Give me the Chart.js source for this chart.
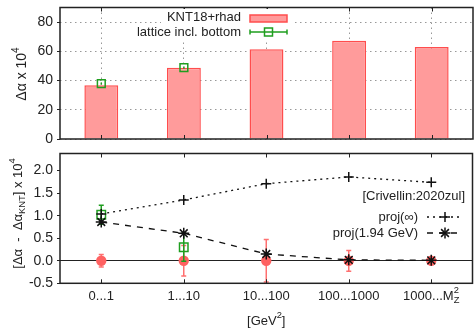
<!DOCTYPE html>
<html>
<head>
<meta charset="utf-8">
<script src="https://cdn.jsdelivr.net/npm/chart.js@4/dist/chart.umd.min.js"></script>
<style>
html, body { margin: 0; padding: 0; background: #fff; overflow: hidden; width: 474px; height: 331px; }
#wrap { position: relative; width: 480px; height: 331px; }
canvas { position: absolute; left: 0; }
#top { top: 0; }
#bot { top: 146px; }
</style>
</head>
<body>
<div id="wrap">
  <canvas id="top" width="480" height="146"></canvas>
  <canvas id="bot" width="480" height="185"></canvas>
</div>
<script>
// --- DATA ---
const categories = ['0...1', '1...10', '10...100', '100...1000', '1000...M_{Z}^{2}'];
const xTitle = '[GeV^{2}]';

// top panel: delta alpha x 10^4
const knt = [36.8, 48.7, 61.4, 67.3, 63.0];
const lattice = [37.9, 48.9, null, null, null];
const latticeErr = [0.8, 0.8, null, null, null];
const topTicks = [0, 20, 40, 60, 80];

// bottom panel: difference to KNT
const kntDiff = [0, 0, 0, 0, 0];
const kntDiffErr = [0.14, 0.34, 0.47, 0.23, 0];
const latticeDiff = [1.02, 0.30, null, null, null];
const latticeDiffErr = [0.21, 0.31, null, null, null];
const projInf = [1.04, 1.35, 1.71, 1.86, 1.74];
const proj194 = [0.86, 0.61, 0.15, 0.02, 0.01];

const FONT = '"Liberation Sans", Arial, sans-serif';
const INK = '#222';
const GREEN = '#1f9e1f';
const RED_FILL = '#ff9b9b';
const RED_LINE = '#ff4d4d';
const RED_DOT = '#ff6262';

Chart.defaults.font.family = FONT;
Chart.defaults.color = INK;

// --- rich text (sub/superscripts) ---
function parseRich(s) {
    const out = [];
    let i = 0, buf = '';
    while (i < s.length) {
        const c = s[i];
        if ((c === '_' || c === '^') && s[i + 1] === '{') {
            if (buf) { out.push({ t: buf, m: 'n' }); buf = ''; }
            const j = s.indexOf('}', i);
            out.push({ t: s.slice(i + 2, j), m: c === '_' ? 'sub' : 'sup' });
            i = j + 1;
        } else { buf += c; i++; }
    }
    if (buf) out.push({ t: buf, m: 'n' });
    return out;
}

function drawRich(ctx, s, x, y, size, align) {
    const parts = parseRich(s);
    const items = [];
    let cx = 0;
    parts.forEach((p, k) => {
        const fs = p.m === 'n' ? size : size * 0.72;
        ctx.font = fs + 'px ' + FONT;
        const w = ctx.measureText(p.t).width;
        const prev = items[k - 1];
        let px = cx;
        if (p.m === 'sup' && prev && prev.m === 'sub') {
            px = cx - prev.w;
            cx = px + Math.max(w, prev.w);
        } else {
            cx += w;
        }
        const dy = p.m === 'sub' ? size * 0.32 : p.m === 'sup' ? -size * 0.42 : 0;
        items.push({ t: p.t, m: p.m, fs, x: px, dy, w });
    });
    const x0 = align === 'center' ? x - cx / 2 : align === 'right' ? x - cx : x;
    ctx.fillStyle = INK;
    ctx.textAlign = 'left';
    ctx.textBaseline = 'middle';
    items.forEach(it => {
        ctx.font = it.fs + 'px ' + FONT;
        ctx.fillText(it.t, x0 + it.x, y + it.dy);
    });
}

function drawRotated(ctx, s, cx, cy, size) {
    ctx.save();
    ctx.translate(cx, cy);
    ctx.rotate(-Math.PI / 2);
    drawRich(ctx, s, 0, 0, size, 'center');
    ctx.restore();
}

// --- plugins ---
const errorBars = {
    id: 'errorBars',
    beforeDatasetDraw(chart, args) {
        const ds = chart.data.datasets[args.index];
        if (!ds.errors) return;
        const meta = chart.getDatasetMeta(args.index);
        const ys = chart.scales.y;
        const area = chart.chartArea;
        const ctx = chart.ctx;
        ctx.save();
        ctx.beginPath();
        ctx.rect(area.left, area.top, area.right - area.left, area.bottom - area.top);
        ctx.clip();
        ctx.strokeStyle = ds.errColor;
        ctx.lineWidth = 1.5;
        ds.data.forEach((v, i) => {
            const e = ds.errors[i];
            if (v === null || !e) return;
            const x = meta.data[i].x;
            const y1 = ys.getPixelForValue(v + e);
            const y2 = ys.getPixelForValue(v - e);
            const c = ds.capW;
            ctx.beginPath();
            ctx.moveTo(x, y1); ctx.lineTo(x, y2);
            if (c) {
                ctx.moveTo(x - c, y1); ctx.lineTo(x + c, y1);
                ctx.moveTo(x - c, y2); ctx.lineTo(x + c, y2);
            }
            ctx.stroke();
        });
        ctx.restore();
    }
};

const frame = {
    id: 'frame',
    afterDatasetsDraw(chart) {
        const { ctx, chartArea: a } = chart;
        const xs = chart.scales.x;
        ctx.save();
        ctx.strokeStyle = INK;
        ctx.lineWidth = 1.5;
        ctx.strokeRect(a.left, a.top, a.right - a.left, a.bottom - a.top);
        ctx.lineWidth = 1;
        ctx.beginPath();
        categories.forEach((c, i) => {
            const x = Math.round(xs.getPixelForValue(i)) + 0.5;
            ctx.moveTo(x, a.top); ctx.lineTo(x, a.top + 4);
            ctx.moveTo(x, a.bottom); ctx.lineTo(x, a.bottom - 4);
        });
        ctx.stroke();
        ctx.restore();
    }
};

function plusMark(ctx, x, y, r) {
    ctx.beginPath();
    ctx.moveTo(x - r, y); ctx.lineTo(x + r, y);
    ctx.moveTo(x, y - r); ctx.lineTo(x, y + r);
    ctx.stroke();
}
function starMark(ctx, x, y, r) {
    plusMark(ctx, x, y, r);
    const d = r * Math.SQRT1_2;
    ctx.beginPath();
    ctx.moveTo(x - d, y - d); ctx.lineTo(x + d, y + d);
    ctx.moveTo(x - d, y + d); ctx.lineTo(x + d, y - d);
    ctx.stroke();
}

const topDecor = {
    id: 'topDecor',
    afterDraw(chart) {
        const ctx = chart.ctx;
        ctx.save();
        // opaque key
        ctx.fillStyle = '#fff';
        ctx.fillRect(161, 9, 132, 30);
        drawRich(ctx, 'KNT18+rhad', 241, 17, 13, 'right');
        drawRich(ctx, 'lattice incl. bottom', 241, 32, 13, 'right');
        ctx.fillStyle = RED_FILL;
        ctx.strokeStyle = RED_LINE;
        ctx.lineWidth = 1.5;
        ctx.fillRect(250, 15, 37, 7);
        ctx.strokeRect(250, 15, 37, 7);
        ctx.strokeStyle = GREEN;
        ctx.beginPath();
        ctx.moveTo(250, 32); ctx.lineTo(287, 32);
        ctx.moveTo(250, 29.5); ctx.lineTo(250, 34.5);
        ctx.moveTo(287, 29.5); ctx.lineTo(287, 34.5);
        ctx.stroke();
        ctx.strokeRect(264.5, 28, 8, 8);
        // axis title
        drawRotated(ctx, 'Δα x 10^{4}', 22, 74, 14);
        ctx.restore();
    }
};

const botDecor = {
    id: 'botDecor',
    afterDraw(chart) {
        const ctx = chart.ctx;
        const xs = chart.scales.x;
        const a = chart.chartArea;
        ctx.save();
        categories.forEach((c, i) => {
            drawRich(ctx, c, xs.getPixelForValue(i), a.bottom + 13, 13, 'center');
        });
        drawRich(ctx, xTitle, xs.getPixelForValue(2), a.bottom + 38, 13, 'center');
        drawRotated(ctx, '[Δα  -  Δα_{KNT}] x 10^{4}', 18, 67.5, 13);
        // key
        drawRich(ctx, '[Crivellin:2020zul]', 465, 50, 13, 'right');
        drawRich(ctx, 'proj(∞)', 418, 71, 13, 'right');
        drawRich(ctx, 'proj(1.94 GeV)', 418, 87, 13, 'right');
        ctx.strokeStyle = '#111';
        ctx.lineWidth = 1.3;
        ctx.setLineDash([2, 4]);
        ctx.beginPath(); ctx.moveTo(427, 71); ctx.lineTo(462, 71); ctx.stroke();
        ctx.setLineDash([6, 6]);
        ctx.beginPath(); ctx.moveTo(427, 87); ctx.lineTo(462, 87); ctx.stroke();
        ctx.setLineDash([]);
        ctx.lineWidth = 1.5;
        plusMark(ctx, 445, 71, 5);
        starMark(ctx, 445, 87, 5.5);
        ctx.restore();
    }
};

function fixY(width) {
    return s => { s.width = width; s.paddingTop = 0; s.paddingBottom = 0; };
}
function fixX(height) {
    return s => { s.height = height; s.paddingLeft = 0; s.paddingRight = 0; };
}

// --- top chart ---
new Chart(document.getElementById('top'), {
    type: 'bar',
    data: {
        labels: categories,
        datasets: [{
            type: 'line',
            label: 'lattice incl. bottom',
            data: lattice,
            errors: latticeErr,
            errColor: GREEN,
            capW: 0,
            showLine: false,
            pointStyle: 'rect',
            pointRadius: 5.5,
            pointBorderWidth: 1.5,
            borderColor: GREEN,
            backgroundColor: 'rgba(0,0,0,0)',
            order: 0
        }, {
            label: 'KNT18+rhad',
            data: knt,
            backgroundColor: RED_FILL,
            borderColor: RED_LINE,
            borderWidth: 1.5,
            barPercentage: 0.41,
            categoryPercentage: 1,
            order: 1
        }]
    },
    options: {
        responsive: false,
        animation: false,
        layout: { padding: { left: 0, right: 2.5, top: 7.5, bottom: 0.5 } },
        plugins: { legend: { display: false }, tooltip: { enabled: false } },
        scales: {
            x: {
                offset: true,
                grid: { offset: false, color: '#999', drawTicks: false },
                border: { display: false, dash: [1.5, 3.5] },
                ticks: { display: false },
                afterFit: fixX(0)
            },
            y: {
                min: 0, max: 90,
                afterBuildTicks: s => { s.ticks = topTicks.map(v => ({ value: v })); },
                grid: { color: '#999', tickColor: INK, tickLength: 3, tickBorderDash: [] },
                border: { display: false, dash: [1.5, 3.5] },
                ticks: { padding: 4, font: { size: 14 } },
                afterFit: fixY(60)
            }
        }
    },
    plugins: [errorBars, frame, topDecor]
});

// --- bottom chart ---
new Chart(document.getElementById('bot'), {
    type: 'line',
    data: {
        labels: categories,
        datasets: [{
            label: 'proj(1.94 GeV)',
            data: proj194,
            borderColor: '#111',
            borderWidth: 1.3,
            borderDash: [6, 6],
            pointStyle: 'star',
            pointRadius: 5.5,
            pointBorderWidth: 1.5,
            pointBorderColor: '#111',
            fill: false,
            order: 0
        }, {
            label: 'proj(∞)',
            data: projInf,
            borderColor: '#111',
            borderWidth: 1.3,
            borderDash: [2, 4],
            pointStyle: 'cross',
            pointRadius: 5,
            pointBorderWidth: 1.5,
            pointBorderColor: '#111',
            fill: false,
            order: 1
        }, {
            label: 'lattice incl. bottom',
            data: latticeDiff,
            errors: latticeDiffErr,
            errColor: GREEN,
            capW: 2.5,
            showLine: false,
            pointStyle: 'rect',
            pointRadius: 6,
            pointBorderWidth: 1.5,
            borderColor: GREEN,
            backgroundColor: 'rgba(0,0,0,0)',
            order: 2
        }, {
            label: 'KNT18+rhad',
            data: kntDiff,
            errors: kntDiffErr,
            errColor: '#ff7070',
            capW: 2.5,
            showLine: false,
            pointStyle: 'circle',
            pointRadius: 5.2,
            pointBorderWidth: 0,
            borderColor: RED_DOT,
            backgroundColor: RED_DOT,
            order: 3
        }]
    },
    options: {
        responsive: false,
        animation: false,
        layout: { padding: { left: 0, right: 2.5, top: 0, bottom: 0 } },
        plugins: { legend: { display: false }, tooltip: { enabled: false } },
        scales: {
            x: {
                offset: true,
                grid: { display: false },
                border: { display: false },
                ticks: { display: false },
                afterFit: fixX(47.7)
            },
            y: {
                min: -0.5, max: 2.38,
                ticks: { stepSize: 0.5, includeBounds: false, padding: 4, font: { size: 14 },
                         callback: v => v.toFixed(1) },
                grid: {
                    color: c => (c.tick && c.tick.value === 0) ? INK : 'rgba(0,0,0,0)',
                    tickColor: INK, tickLength: 3
                },
                border: { display: false },
                afterFit: fixY(60)
            }
        }
    },
    plugins: [errorBars, frame, botDecor]
});
</script>
</body>
</html>
